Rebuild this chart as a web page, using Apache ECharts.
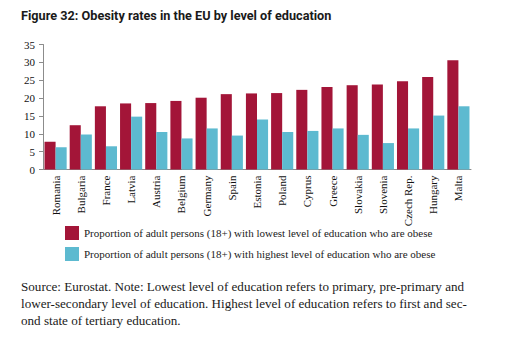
<!DOCTYPE html>
<html>
<head>
<meta charset="utf-8">
<title>Obesity rates in the EU by level of education</title>
<script src="https://cdn.jsdelivr.net/npm/echarts@6/dist/echarts.min.js"></script>
<style>
  html, body { margin: 0; padding: 0; background: #fff; }
  #chart { width: 522px; height: 351px; }
</style>
</head>
<body>
<div id="chart"></div>
<script>
// countries, sorted by the lowest-education rate
const countries = ['Romania', 'Bulgaria', 'France', 'Latvia', 'Austria', 'Belgium', 'Germany', 'Spain',
  'Estonia', 'Poland', 'Cyprus', 'Greece', 'Slovakia', 'Slovenia', 'Czech Rep.', 'Hungary', 'Malta'];

// % of adults (18+) who are obese
const lowestEdu = [7.8, 12.4, 17.7, 18.5, 18.6, 19.2, 20.1, 21.1, 21.3, 21.4, 22.3, 23.1, 23.6, 23.8, 24.7, 25.9, 30.6];
const highestEdu = [6.2, 9.8, 6.5, 14.8, 10.5, 8.7, 11.5, 9.5, 14.0, 10.5, 10.8, 11.5, 9.7, 7.4, 11.5, 15.1, 17.7];

const seriesNames = [
  'Proportion of adult persons (18+) with lowest level of education who are obese',
  'Proportion of adult persons (18+) with highest level of education who are obese'
];

const titleText = 'Figure 32: Obesity rates in the EU by level of education';
const noteLines = [
  'Source: Eurostat. Note: Lowest level of education refers to primary, pre-primary and',
  'lower-secondary level of education. Highest level of education refers to first and sec-',
  'ond state of tertiary education.'
];

const serif = '"Liberation Serif", "DejaVu Serif", serif';
const axisGrey = '#8c8c8c';

const myChart = echarts.init(document.getElementById('chart'), null, { renderer: 'svg' });

const option = {
  animation: false,
  backgroundColor: '#fff',
  color: ['#a31538', '#5dbad0'],
  title: [
    {
      text: titleText,
      left: 21,
      top: 9,
      padding: 0,
      textStyle: {
        fontFamily: 'Roboto, "DejaVu Sans Condensed", sans-serif',
        fontSize: 12.7,
        fontWeight: 'bold',
        color: '#1a1a1a'
      }
    },
    {
      text: noteLines.join('\n'),
      left: 21,
      top: 278,
      padding: 0,
      textStyle: {
        fontFamily: serif,
        fontSize: 13.1,
        fontWeight: 'normal',
        lineHeight: 17,
        color: '#1a1a1a'
      }
    }
  ],
  legend: {
    orient: 'vertical',
    left: 65,
    top: 226,
    padding: 0,
    itemWidth: 14,
    itemHeight: 14,
    itemGap: 7,
    icon: 'rect',
    selectedMode: false,
    textStyle: { fontFamily: serif, fontSize: 11, color: '#222' },
    data: seriesNames
  },
  grid: {
    left: 43,
    right: 51,
    top: 44.5,
    bottom: 181.5,
    containLabel: false
  },
  xAxis: {
    type: 'category',
    data: countries,
    axisLine: { lineStyle: { color: axisGrey } },
    axisTick: { length: 4, lineStyle: { color: axisGrey } },
    axisLabel: {
      rotate: 90,
      margin: 6,
      interval: 0,
      fontFamily: serif,
      fontSize: 11,
      color: '#111'
    }
  },
  yAxis: {
    type: 'value',
    min: 0,
    max: 35,
    interval: 5,
    splitLine: { show: false },
    axisLine: { show: true, lineStyle: { color: axisGrey } },
    axisTick: { show: true, length: 4, lineStyle: { color: axisGrey } },
    axisLabel: {
      margin: 8,
      fontFamily: serif,
      fontSize: 11,
      color: '#111'
    }
  },
  series: [
    {
      name: seriesNames[0],
      type: 'bar',
      data: lowestEdu,
      barGap: '0%',
      barCategoryGap: '12%'
    },
    {
      name: seriesNames[1],
      type: 'bar',
      data: highestEdu,
      barGap: '0%',
      barCategoryGap: '12%'
    }
  ]
};

myChart.setOption(option);
</script>
</body>
</html>
